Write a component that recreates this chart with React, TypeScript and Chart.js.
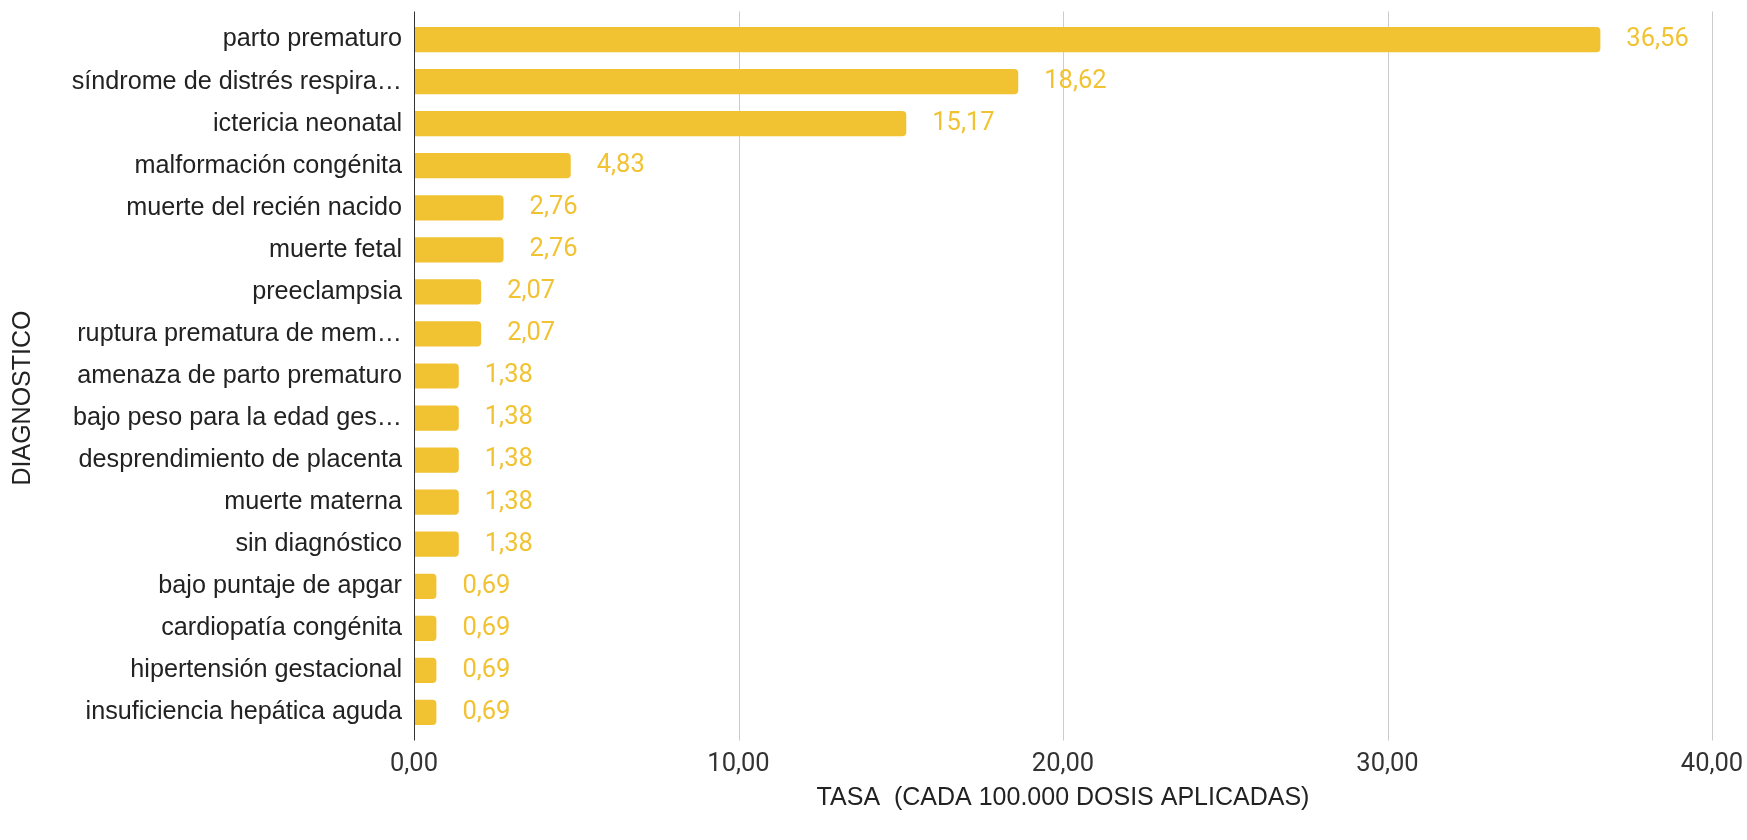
import React, { useEffect, useRef } from "react";
import { Chart, registerables } from "chart.js";

Chart.register(...registerables);

const categories: string[] = [
  "parto prematuro",
  "síndrome de distrés respira…",
  "ictericia neonatal",
  "malformación congénita",
  "muerte del recién nacido",
  "muerte fetal",
  "preeclampsia",
  "ruptura prematura de mem…",
  "amenaza de parto prematuro",
  "bajo peso para la edad ges…",
  "desprendimiento de placenta",
  "muerte materna",
  "sin diagnóstico",
  "bajo puntaje de apgar",
  "cardiopatía congénita",
  "hipertensión gestacional",
  "insuficiencia hepática aguda",
];

const values: number[] = [
  36.56, 18.62, 15.17, 4.83, 2.76, 2.76, 2.07, 2.07, 1.38, 1.38, 1.38, 1.38,
  1.38, 0.69, 0.69, 0.69, 0.69,
];

const xTickValues: number[] = [0, 10, 20, 30, 40];

const xAxisTitle = "TASA  (CADA 100.000 DOSIS APLICADAS)";
const yAxisTitle = "DIAGNOSTICO";

const BAR_COLOR = "#f1c232";
const fmt = (v: number) => v.toFixed(2).replace(".", ",");

const SANS = "'Liberation Sans', Arial, sans-serif";
const ROBOTO = "Roboto, 'Liberation Sans', sans-serif";

const CANVAS_W = 1747;
const CANVAS_H = 840;
const OFF = 8; // former body margin, now drawn inside the canvas

const overlay = {
  id: "overlay",
  beforeDatasetsDraw(chart: any) {
    const { ctx, chartArea, scales } = chart;
    const x = scales.x;
    ctx.save();
    ctx.strokeStyle = "#cccccc";
    ctx.lineWidth = 1;
    for (const t of xTickValues) {
      if (t === 0) continue;
      const px = Math.round(x.getPixelForValue(t)) + 0.5;
      ctx.beginPath();
      ctx.moveTo(px, chartArea.top - 7);
      ctx.lineTo(px, chartArea.bottom + 7);
      ctx.stroke();
    }
    ctx.restore();
  },
  afterDatasetsDraw(chart: any) {
    const { ctx, chartArea, scales } = chart;
    const x = scales.x;
    ctx.save();
    const px0 = Math.round(x.getPixelForValue(0)) + 0.5;
    ctx.strokeStyle = "#333333";
    ctx.lineWidth = 1;
    ctx.beginPath();
    ctx.moveTo(px0, chartArea.top - 7);
    ctx.lineTo(px0, chartArea.bottom + 7);
    ctx.stroke();
    const meta = chart.getDatasetMeta(0);
    ctx.fillStyle = BAR_COLOR;
    ctx.font = `25.5px ${ROBOTO}`;
    ctx.textAlign = "left";
    ctx.textBaseline = "middle";
    meta.data.forEach((el: any, i: number) => {
      ctx.fillText(fmt(values[i]), el.x + 26, el.y);
    });
    ctx.restore();
  },
  afterDraw(chart: any) {
    const { ctx, chartArea, scales } = chart;
    const x = scales.x;
    ctx.save();
    ctx.fillStyle = "#333333";
    ctx.font = `25.5px ${ROBOTO}`;
    ctx.textAlign = "center";
    ctx.textBaseline = "middle";
    for (const t of xTickValues) {
      ctx.fillText(fmt(t), x.getPixelForValue(t), chartArea.bottom + 31.5);
    }
    ctx.translate(15 + OFF, 390 + OFF);
    ctx.rotate(-Math.PI / 2);
    ctx.fillStyle = "#222222";
    ctx.font = `25px ${SANS}`;
    ctx.textAlign = "center";
    ctx.textBaseline = "middle";
    ctx.fillText(yAxisTitle, 0, 0);
    ctx.restore();
  },
};

const zeroPad = (s: any) => {
  s.paddingTop = 0;
  s.paddingBottom = 0;
  s.paddingLeft = 0;
  s.paddingRight = 0;
};

export default function App() {
  const ref = useRef<HTMLCanvasElement | null>(null);
  useEffect(() => {
    const prevMargin = document.body.style.margin;
    document.body.style.margin = "0";
    if (!ref.current) return;
    const chart = new Chart(ref.current, {
      type: "bar",
      data: {
        labels: categories,
        datasets: [
          {
            data: values,
            backgroundColor: BAR_COLOR,
            borderRadius: 4,
            borderSkipped: "start",
            categoryPercentage: 1,
            barPercentage: 0.6,
          },
        ],
      },
      options: {
        indexAxis: "y",
        animation: false,
        responsive: false,
        devicePixelRatio: 1,
        layout: { padding: { top: 10.5 + OFF, right: 35, left: OFF, bottom: OFF } },
        plugins: {
          legend: { display: false },
          tooltip: { enabled: false },
        },
        scales: {
          x: {
            type: "linear",
            min: xTickValues[0],
            max: xTickValues[xTickValues.length - 1],
            grid: { display: false, drawTicks: false },
            border: { display: false },
            afterBuildTicks: (s: any) => {
              s.ticks = xTickValues.map((v) => ({ value: v }));
            },
            afterFit: (s: any) => {
              s.height = 98.5;
              zeroPad(s);
            },
            ticks: { display: false },
            title: {
              display: true,
              text: xAxisTitle,
              color: "#222222",
              font: { family: SANS, size: 25 },
              padding: { top: 2, bottom: 19 },
            },
          },
          y: {
            type: "category",
            offset: true,
            grid: { display: false, drawTicks: false },
            border: { display: false },
            afterFit: (s: any) => {
              s.width = 406;
              zeroPad(s);
            },
            ticks: {
              autoSkip: false,
              padding: 12,
              color: "#222222",
              font: { family: SANS, size: 25.2 },
            },
          },
        },
      },
      plugins: [overlay],
    });
    return () => {
      chart.destroy();
      document.body.style.margin = prevMargin;
    };
  }, []);
  return (
    <div style={{ width: CANVAS_W, height: CANVAS_H, overflow: "hidden" }}>
      <canvas ref={ref} width={CANVAS_W} height={CANVAS_H} style={{ display: "block" }} />
    </div>
  );
}
